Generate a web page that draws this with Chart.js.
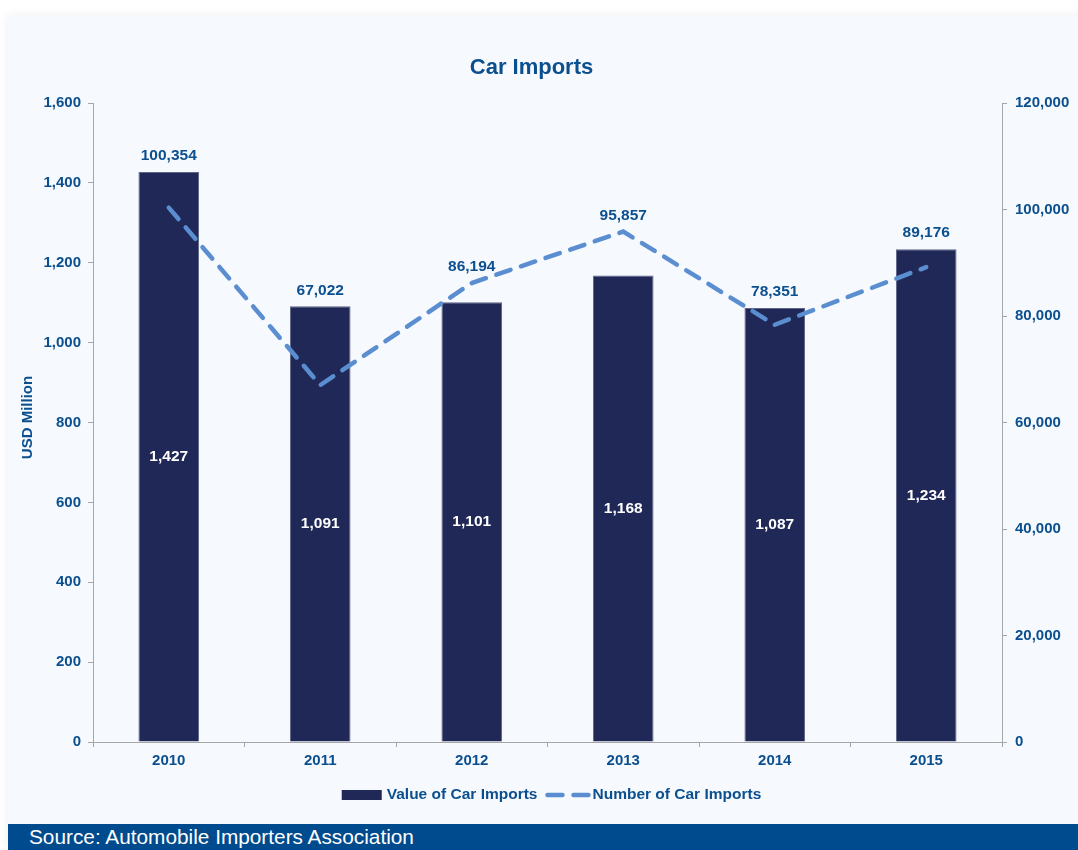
<!DOCTYPE html>
<html>
<head>
<meta charset="utf-8">
<title>Car Imports</title>
<script src="https://cdn.jsdelivr.net/npm/chart.js@4"></script>
<style>
  html, body { margin: 0; padding: 0; background: #ffffff; }
  body { width: 1078px; height: 850px; position: relative; overflow: hidden; font-family: "Liberation Sans", Arial, sans-serif; }
  #card {
    position: absolute; left: 8px; top: 16px; width: 1090px; height: 834px;
    background: #f6f9fd; box-shadow: 0 0 10px rgba(0,0,0,0.07);
  }
  #wrap { position: absolute; left: 8px; top: 16px; width: 1070px; height: 808px; }
  #source {
    position: absolute; left: 8px; top: 824px; width: 1070px; height: 26px;
    background: #004b8d; color: #ffffff; font-size: 20.8px; line-height: 25px;
    padding-left: 21px; box-sizing: border-box; white-space: nowrap;
  }
</style>
</head>
<body>
<div id="card"></div>
<div id="wrap"><canvas id="chart" width="1070" height="808"></canvas></div>
<div id="source">Source: Automobile Importers Association</div>
<script>
// Chart data
const years = ['2010', '2011', '2012', '2013', '2014', '2015'];
const importValueUsdMillion = [1427, 1091, 1101, 1168, 1087, 1234];
const importCount = [100354, 67022, 86194, 95857, 78351, 89176];
const leftTicks = [0, 200, 400, 600, 800, 1000, 1200, 1400, 1600];
const rightTicks = [0, 20000, 40000, 60000, 80000, 100000, 120000];

const FONT = '"Liberation Sans", Arial, sans-serif';
const TEXT_BLUE = '#0b4f8e';
const BAR_NAVY = '#1f2857';
const LINE_BLUE = '#5a8ed0';
const AXIS_GREY = '#a6a6a6';
const fmt = v => Number(v).toLocaleString('en-US');

// Title, axis title, value labels and legend drawn on the canvas
const decorations = {
  id: 'decorations',
  afterDatasetsDraw(chart) {
    const ctx = chart.ctx;
    const barMeta = chart.getDatasetMeta(0);
    const lineMeta = chart.getDatasetMeta(1);
    ctx.save();
    ctx.font = 'bold 15.5px ' + FONT;
    ctx.textAlign = 'center';
    ctx.textBaseline = 'middle';
    // values inside bars
    ctx.fillStyle = '#ffffff';
    barMeta.data.forEach((bar, i) => {
      ctx.fillText(fmt(importValueUsdMillion[i]), bar.x, (bar.y + bar.base) / 2);
    });
    // counts above the higher of bar top and line point
    ctx.fillStyle = TEXT_BLUE;
    lineMeta.data.forEach((pt, i) => {
      const top = Math.min(pt.y, barMeta.data[i].y);
      ctx.fillText(fmt(importCount[i]), pt.x, top - 16);
    });
    ctx.restore();
  },
  afterDraw(chart) {
    const ctx = chart.ctx;
    const area = chart.chartArea;
    ctx.save();
    // title
    ctx.fillStyle = TEXT_BLUE;
    ctx.font = 'bold 22px ' + FONT;
    ctx.textAlign = 'center';
    ctx.textBaseline = 'middle';
    ctx.fillText('Car Imports', 523.5, 52);
    // left axis title
    ctx.save();
    ctx.translate(20, (area.top + area.bottom) / 2 - 5);
    ctx.rotate(-Math.PI / 2);
    ctx.font = 'bold 15px ' + FONT;
    ctx.fillText('USD Million', 0, 0);
    ctx.restore();
    // legend
    const ds = chart.data.datasets;
    ctx.font = 'bold 15.5px ' + FONT;
    ctx.textAlign = 'left';
    const w1 = ctx.measureText(ds[0].label).width;
    const w2 = ctx.measureText(ds[1].label).width;
    const boxW = 40, sampleW = 44;
    const total = boxW + 5 + w1 + 8 + sampleW + 3 + w2;
    let x = (area.left + area.right) / 2 + 4 - total / 2;
    const y = 779;
    ctx.fillStyle = ds[0].backgroundColor;
    ctx.fillRect(x, y - 5, boxW, 10);
    x += boxW + 5;
    ctx.fillStyle = TEXT_BLUE;
    ctx.fillText(ds[0].label, x, y);
    x += w1 + 8;
    ctx.strokeStyle = ds[1].borderColor;
    ctx.lineWidth = 4.5;
    ctx.lineCap = 'round';
    ctx.setLineDash([15, 11]);
    ctx.beginPath();
    ctx.moveTo(x + 2, y);
    ctx.lineTo(x + sampleW, y);
    ctx.stroke();
    ctx.setLineDash([]);
    x += sampleW + 3;
    ctx.fillText(ds[1].label, x, y);
    ctx.restore();
  }
};

const tickFont = { family: FONT, size: 15, weight: 'bold' };

new Chart(document.getElementById('chart'), {
  type: 'bar',
  data: {
    labels: years,
    datasets: [
      {
        type: 'bar',
        label: 'Value of Car Imports',
        data: importValueUsdMillion,
        yAxisID: 'y',
        backgroundColor: BAR_NAVY,
        borderColor: '#5f6688',
        borderWidth: 1,
        categoryPercentage: 1,
        barPercentage: 0.4,
        order: 2
      },
      {
        type: 'line',
        label: 'Number of Car Imports',
        data: importCount,
        yAxisID: 'y1',
        borderColor: LINE_BLUE,
        borderWidth: 4.5,
        borderDash: [15, 11],
        borderCapStyle: 'round',
        pointRadius: 0,
        tension: 0,
        fill: false,
        order: 1
      }
    ]
  },
  options: {
    responsive: false,
    animation: false,
    devicePixelRatio: 1,
    layout: { padding: { top: 87, left: 0, right: 0, bottom: 52 } },
    plugins: {
      legend: { display: false },
      title: { display: false },
      tooltip: { enabled: false }
    },
    scales: {
      x: {
        offset: true,
        grid: { display: true, drawOnChartArea: false, drawTicks: true, tickLength: 5, color: AXIS_GREY, offset: true },
        border: { display: true, color: AXIS_GREY, width: 1 },
        ticks: { color: TEXT_BLUE, font: tickFont, padding: 5 },
        afterFit(scale) { scale.height = 30; }
      },
      y: {
        position: 'left',
        min: 0,
        max: leftTicks[leftTicks.length - 1],
        afterBuildTicks(scale) { scale.ticks = leftTicks.map(v => ({ value: v })); },
        grid: { display: true, drawOnChartArea: false, drawTicks: true, tickLength: 5, color: AXIS_GREY },
        border: { display: true, color: AXIS_GREY, width: 1 },
        ticks: { color: TEXT_BLUE, font: tickFont, padding: 7, callback: v => fmt(v) },
        afterFit(scale) { scale.width = 85; }
      },
      y1: {
        position: 'right',
        min: 0,
        max: rightTicks[rightTicks.length - 1],
        afterBuildTicks(scale) { scale.ticks = rightTicks.map(v => ({ value: v })); },
        grid: { display: true, drawOnChartArea: false, drawTicks: true, tickLength: 5, color: AXIS_GREY },
        border: { display: true, color: AXIS_GREY, width: 1 },
        ticks: { color: TEXT_BLUE, font: tickFont, padding: 8, callback: v => fmt(v) },
        afterFit(scale) { scale.width = 76; }
      }
    }
  },
  plugins: [decorations]
});
</script>
</body>
</html>
